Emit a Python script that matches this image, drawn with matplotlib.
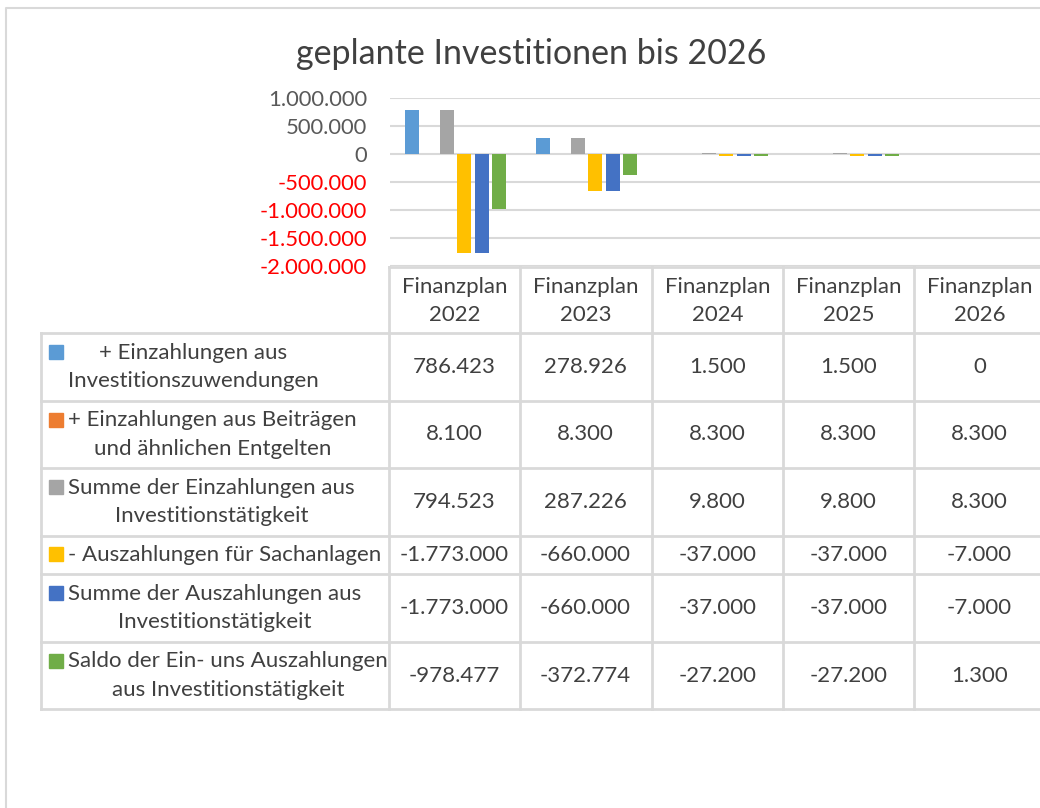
import numpy as np
import matplotlib
matplotlib.use("Agg")
import matplotlib.pyplot as plt
from matplotlib.ticker import FuncFormatter

plt.rcParams['font.family'] = ['Lato', 'DejaVu Sans']

# data
jahre = ["Finanzplan\n2022", "Finanzplan\n2023", "Finanzplan\n2024", "Finanzplan\n2025", "Finanzplan\n2026"]
serien = [
    "+ Einzahlungen aus\nInvestitionszuwendungen",
    "+ Einzahlungen aus Beiträgen\nund ähnlichen Entgelten",
    "Summe der Einzahlungen aus\nInvestitionstätigkeit",
    "- Auszahlungen für Sachanlagen",
    "Summe der Auszahlungen aus\nInvestitionstätigkeit",
    "Saldo der Ein- uns Auszahlungen\naus Investitionstätigkeit",
]
einz_zuw = [786423, 278926, 1500, 1500, 0]
einz_beitr = [8100, 8300, 8300, 8300, 8300]
summe_einz = [794523, 287226, 9800, 9800, 8300]
ausz_sach = [-1773000, -660000, -37000, -37000, -7000]
summe_ausz = [-1773000, -660000, -37000, -37000, -7000]
saldo = [-978477, -372774, -27200, -27200, 1300]
werte = [einz_zuw, einz_beitr, summe_einz, ausz_sach, summe_ausz, saldo]
farben = ["#5B9BD5", "#ED7D31", "#A5A5A5", "#FFC000", "#4472C4", "#70AD47"]

W, H = 1040, 808
txt = "#404040"
grid = "#d9d9d9"


def de(v):
    return f"{int(v):,}".replace(",", ".")


fig = plt.figure(figsize=(W / 100, H / 100), dpi=100)

# layout layer in pixel coordinates
lay = fig.add_axes([0, 0, 1, 1])
lay.set_xlim(0, W)
lay.set_ylim(H, 0)
lay.axis("off")

# outer chart border
lay.plot([6, 6, W + 5], [H + 5, 8, 8], color=grid, lw=1.5)

lay.text(531, 54, "geplante Investitionen bis 2026", ha="center", va="center",
         fontsize=24.5, color=txt)

# bar axes
x0, colw = 390, 131
ax = fig.add_axes([x0 / W, (H - 266) / H, 5 * colw / W, 168 / H])
ax.set_xlim(0, 5)
ax.set_ylim(-2000000, 1000000)
ax.set_yticks(np.arange(-2000000, 1000001, 500000))
ax.yaxis.set_major_formatter(FuncFormatter(lambda v, p: de(v)))
ax.grid(axis="y", color=grid, lw=1.5)
ax.set_axisbelow(True)
for s in ax.spines.values():
    s.set_visible(False)
ax.set_xticks([])
ax.tick_params(axis="y", length=0, pad=16.5, labelsize=15.8, labelcolor="#595959")
for lbl, v in zip(ax.get_yticklabels(), ax.get_yticks()):
    if v < 0:
        lbl.set_color("red")

x = np.arange(5) + 0.5
step, bw = 0.134, 0.107
for k, (vals, c) in enumerate(zip(werte, farben)):
    ax.bar(x + (k - 2.5) * step, vals, width=bw, color=c, zorder=3)

# data table
rows = [267, 333, 401, 468, 536, 574, 642, 709]
cols = [389, 520, 652, 783, 914]
lay.plot([389, W], [rows[0], rows[0]], color=grid, lw=2)
for r in rows[1:]:
    lay.plot([41, W], [r, r], color=grid, lw=2)
lay.plot([41, 41], [rows[1], rows[-1]], color=grid, lw=2)
for c in cols:
    lay.plot([c, c], [rows[0], rows[-1]], color=grid, lw=2)

tfs = 16
ls = 1.55
for j, lab in enumerate(jahre):
    lay.text(cols[j] + colw / 2, (rows[0] + rows[1]) / 2 + 1, lab, ha="center", va="center",
             fontsize=tfs, color=txt, linespacing=ls)

for i, (name, vals, c) in enumerate(zip(serien, werte, farben)):
    top, bot = rows[i + 1], rows[i + 2]
    mid = (top + bot) / 2
    nlines = name.count("\n") + 1
    first = mid - (nlines - 1) * 14
    lay.add_patch(plt.Rectangle((49, first - 8), 14, 14, color=c))
    lay.text(68, mid, name, ha="left", va="center", multialignment="center",
             fontsize=tfs, color=txt, linespacing=ls)
    for j, v in enumerate(vals):
        lay.text(cols[j] + colw / 2, mid, de(v), ha="center", va="center",
                 fontsize=tfs, color=txt)

fig.savefig("out.png", dpi=100)
